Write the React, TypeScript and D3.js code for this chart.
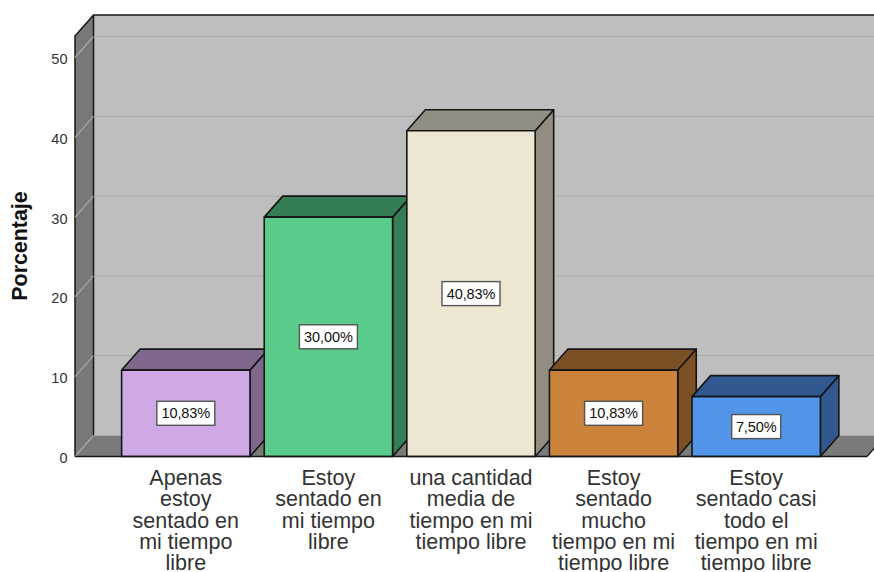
import React from "react";
import * as d3 from "d3";

const categories = [
  ["Apenas", "estoy", "sentado en", "mi tiempo", "libre"],
  ["Estoy", "sentado en", "mi tiempo", "libre"],
  ["una cantidad", "media de", "tiempo en mi", "tiempo libre"],
  ["Estoy", "sentado", "mucho", "tiempo en mi", "tiempo libre"],
  ["Estoy", "sentado casi", "todo el", "tiempo en mi", "tiempo libre"],
];
const values = [10.83, 30.0, 40.83, 10.83, 7.5];
const valueLabels = ["10,83%", "30,00%", "40,83%", "10,83%", "7,50%"];
const frontColors = ["#CFA9E6", "#5BCB8B", "#EDE6D2", "#CB833C", "#5295E8"];
const topColors = ["#80688C", "#357D54", "#918D80", "#7C5025", "#32598F"];
const yTicks = [0, 10, 20, 30, 40, 50];

const FONT = "'Liberation Sans', Arial, sans-serif";
const DX = 18.5;
const DY = -21;
const LINE = "#161616";

const y = d3.scaleLinear().domain([0, 50]).range([456.5, 57.5]);
const x = d3.scaleBand<number>().domain(d3.range(values.length)).range([114.5, 827.5]).paddingInner(0.1).paddingOuter(0.05);

const poly = (pts: [number, number][]) => d3.line()(pts) + "Z";

export default function App() {
  const x0 = 75;
  const x1 = 867;
  const yB = y(0);
  const yT = 36;
  return (
    <svg width={874} height={572} style={{ position: "absolute", left: 0, top: 0, background: "#fff" }}>
      {/* back wall */}
      <path d={poly([[x0 + DX, yT + DY], [x1 + DX, yT + DY], [x1 + DX, yB + DY], [x0 + DX, yB + DY]])} fill="#BEBEBE" />
      {/* floor */}
      <path d={poly([[x0, yB], [x0 + DX, yB + DY], [x1 + DX, yB + DY], [x1, yB]])} fill="#7A7A7A" />
      <path d={`M${x1},${yB}L${x1 + DX},${yB + DY}`} stroke={LINE} strokeWidth={1.4} fill="none" />
      {/* left wall */}
      <path d={poly([[x0, yT], [x0 + DX, yT + DY], [x0 + DX, yB + DY], [x0, yB]])} fill="#787878" />
      <path d={`M${x0},${yB}V${yT}L${x0 + DX},${yT + DY}H${x1 + DX}M${x0 + DX},${yT + DY}V${yB + DY}`} stroke={LINE} strokeWidth={1.5} fill="none" />
      {/* grid */}
      {yTicks.map((t) => (
        <g key={t}>
          <path d={`M${x0},${y(t)}L${x0 + DX},${y(t) + DY}`} stroke="#A8A8A8" strokeWidth={1.2} fill="none" />
          {t > 0 && <path d={`M${x0 + DX + 1},${y(t) + DY}H${x1 + DX}`} stroke="#ADADAD" strokeWidth={1.2} fill="none" />}
          <text x={67.5} y={y(t) + 6.5} textAnchor="end" fontFamily={FONT} fontSize={14.5} fill="#333">{t}</text>
        </g>
      ))}
      <text transform="translate(26.5,246) rotate(-90)" textAnchor="middle" fontFamily={FONT} fontSize={21.4} fontWeight="bold" fill="#111">Porcentaje</text>
      {/* bars */}
      {values.map((v, i) => {
        const l = x(i)!;
        const r = l + x.bandwidth();
        const t = y(v);
        return (
          <g key={i} stroke={LINE} strokeWidth={1.6} strokeLinejoin="round">
            <path d={poly([[r, t], [r + DX, t + DY], [r + DX, yB + DY], [r, yB]])} fill={topColors[i]} />
            <path d={poly([[l, t], [l + DX, t + DY], [r + DX, t + DY], [r, t]])} fill={topColors[i]} />
            <rect x={l} y={t} width={r - l} height={yB - t} fill={frontColors[i]} />
          </g>
        );
      })}
      {/* front floor line */}
      <path d={`M${x0},${yB}H${x1}`} stroke={LINE} strokeWidth={1.6} fill="none" />
      {/* value labels */}
      {values.map((v, i) => {
        const cx = x(i)! + x.bandwidth() / 2;
        const cy = y(v / 2);
        const w = i === 4 ? 49 : 58;
        return (
          <g key={i}>
            <rect x={cx - w / 2} y={cy - 12} width={w} height={24} fill="#fff" stroke="#555" strokeWidth={1.4} />
            <text x={cx} y={cy + 5} textAnchor="middle" fontFamily={FONT} fontSize={14.5} fill="#111" letterSpacing={-0.1}>{valueLabels[i]}</text>
          </g>
        );
      })}
      {/* category labels */}
      {categories.map((lines, i) => (
        <text key={i} textAnchor="middle" fontFamily={FONT} fontSize={21.5} fill="#333">
          {lines.map((s, j) => (
            <tspan key={j} x={x(i)! + x.bandwidth() / 2} y={485 + j * 21.25}>{s}</tspan>
          ))}
        </text>
      ))}
    </svg>
  );
}
